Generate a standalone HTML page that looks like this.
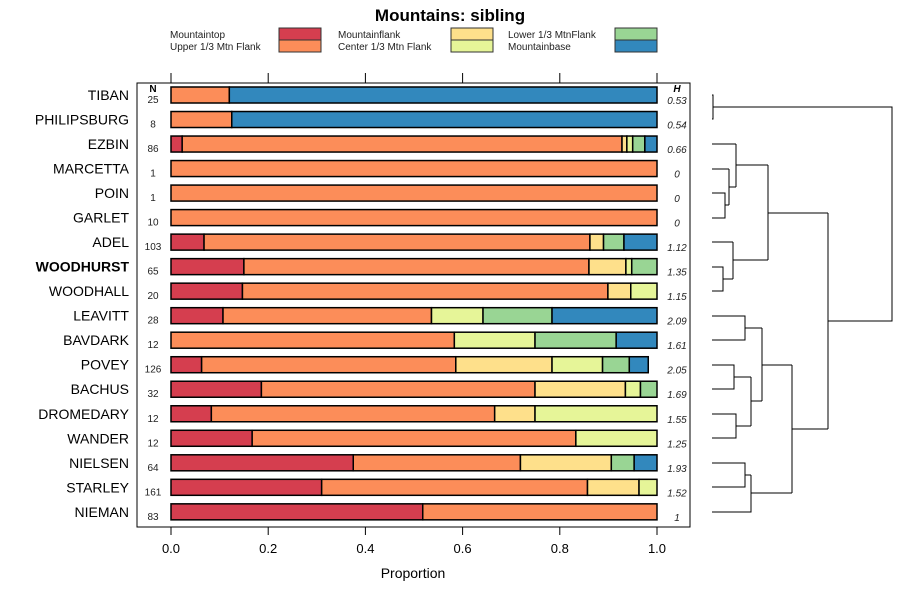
<!DOCTYPE html>
<html><head><meta charset="utf-8"><style>
body{margin:0;background:#fff}
svg{font-family:"Liberation Sans",sans-serif}
</style></head><body>
<svg id="c" width="900" height="600">
<text x="450" y="21" text-anchor="middle" font-size="17" font-weight="bold">Mountains: sibling</text>
<g id="legend"></g>
<rect x="137" y="83" width="553" height="444" fill="none" stroke="#000"/>
<g id="axes"></g>
<g id="bars"></g>
<g id="dendro" fill="none" stroke="#000" stroke-width="1"></g>
<text x="413" y="578" text-anchor="middle" font-size="14">Proportion</text>
<text x="153" y="92" text-anchor="middle" font-size="10" font-weight="bold">N</text>
<text x="677" y="92" text-anchor="middle" font-size="10" font-weight="bold" font-style="italic">H</text>
</svg>
<script>
const categories=["Mountaintop","Upper 1/3 Mtn Flank","Mountainflank","Center 1/3 Mtn Flank","Lower 1/3 MtnFlank","Mountainbase"];
const colors=["#d53e4f","#fc8d59","#fee08b","#e6f598","#99d594","#3288bd"];
const sites=["TIBAN","PHILIPSBURG","EZBIN","MARCETTA","POIN","GARLET","ADEL","WOODHURST","WOODHALL","LEAVITT","BAVDARK","POVEY","BACHUS","DROMEDARY","WANDER","NIELSEN","STARLEY","NIEMAN"];
const nValues=[25,8,86,1,1,10,103,65,20,28,12,126,32,12,12,64,161,83];
const hValues=["0.53","0.54","0.66","0","0","0","1.12","1.35","1.15","2.09","1.61","2.05","1.69","1.55","1.25","1.93","1.52","1"];
const mountaintop=[0,0,0.023,0,0,0,0.068,0.15,0.147,0.107,0,0.063,0.186,0.083,0.167,0.375,0.31,0.518];
const upperFlank=[0.12,0.125,0.905,1,1,1,0.794,0.71,0.752,0.429,0.583,0.523,0.563,0.583,0.666,0.344,0.547,0.482];
const mountainflank=[0,0,0.01,0,0,0,0.028,0.076,0.047,0,0,0.198,0.186,0.083,0,0.187,0.106,0];
const centerFlank=[0,0,0.012,0,0,0,0,0.012,0.054,0.106,0.166,0.104,0.031,0.251,0.167,0,0.037,0];
const lowerFlank=[0,0,0.025,0,0,0,0.042,0.052,0,0.142,0.167,0.055,0.034,0,0,0.047,0,0];
const mountainbase=[0.88,0.875,0.025,0,0,0,0.068,0,0,0.216,0.084,0.039,0,0,0,0.047,0,0];
const xTicks=[0,0.2,0.4,0.6,0.8,1.0];
const xTickLabels=["0.0","0.2","0.4","0.6","0.8","1.0"];
const series=[mountaintop,upperFlank,mountainflank,centerFlank,lowerFlank,mountainbase];
const NS="http://www.w3.org/2000/svg";
const X=v=>171+v*486;
const Y=i=>95+i*24.52;
function mk(tag,attrs,parent,text){const e=document.createElementNS(NS,tag);for(const k in attrs)e.setAttribute(k,attrs[k]);if(text!==undefined)e.textContent=text;parent.appendChild(e);return e;}
const lg=document.getElementById('legend');
const lx=[[170,279],[338,451],[508,615]];
categories.forEach((c,i)=>{const col=Math.floor(i/2),row=i%2;
 const t=mk('text',{x:lx[col][0],y:38+row*12,'font-size':10,fill:'#222'},lg,c);
 
 
 const r=mk('rect',{x:lx[col][1],y:28+row*12,width:42,height:12,fill:colors[i],stroke:'#333'},lg);
 
 
});
const ax=document.getElementById('axes');
xTicks.forEach((v,i)=>{
 mk('line',{x1:X(v),x2:X(v),y1:73,y2:83,stroke:'#000'},ax);
 mk('line',{x1:X(v),x2:X(v),y1:527,y2:535,stroke:'#000'},ax);
 const t=mk('text',{x:X(v),y:553,'text-anchor':'middle','font-size':13},ax,xTickLabels[i]);
 
 
});
const bg=document.getElementById('bars');
sites.forEach((s,i)=>{
 const y=Y(i);
 const lab=mk('text',{x:129,y:y+5,'text-anchor':'end','font-size':14,'font-weight':s==='WOODHURST'?'bold':'normal'},bg,s);
 
 
 const nt=mk('text',{x:153,y:y+8,'text-anchor':'middle','font-size':10,fill:'#222'},bg,String(nValues[i]));
 
 
 const ht=mk('text',{x:677,y:y+9,'text-anchor':'middle','font-size':10,'font-style':'italic',fill:'#222'},bg,hValues[i]);
 
 
 let cum=0;
 series.forEach((arr,k)=>{const v=arr[i];if(v>0){
  const r=mk('rect',{x:X(cum),y:y-8,width:X(cum+v)-X(cum),height:16,fill:colors[k],stroke:'#000','stroke-width':1.5},bg);
  
  
  cum+=v;}});
});
const dg=document.getElementById('dendro');
const segs=[
"M712,95H713V119H712","M713,107H892V321H828",
"M712,144H736","M712,169H729","M712,193H725V218H712","M725,205H729","M729,169V205","M729,187H736","M736,144V187","M736,165H768",
"M712,242H733","M712,267H723V291H712","M723,279H733","M733,242V279","M733,260H768","M768,165V260","M768,213H828","M828,213V429",
"M712,316H745V340H712","M745,328H762","M712,365H734V389H712","M734,377H751","M712,414H736V438H712","M736,426H751","M751,377V426","M751,401H762","M762,328V401","M762,365H792",
"M712,463H745V487H712","M745,475H751","M712,512H751V475","M751,493H792","M792,365V493","M792,429H828"];
segs.forEach(d=>{const p=mk('path',{d:d},dg);
 
 });
</script>
</body></html>
